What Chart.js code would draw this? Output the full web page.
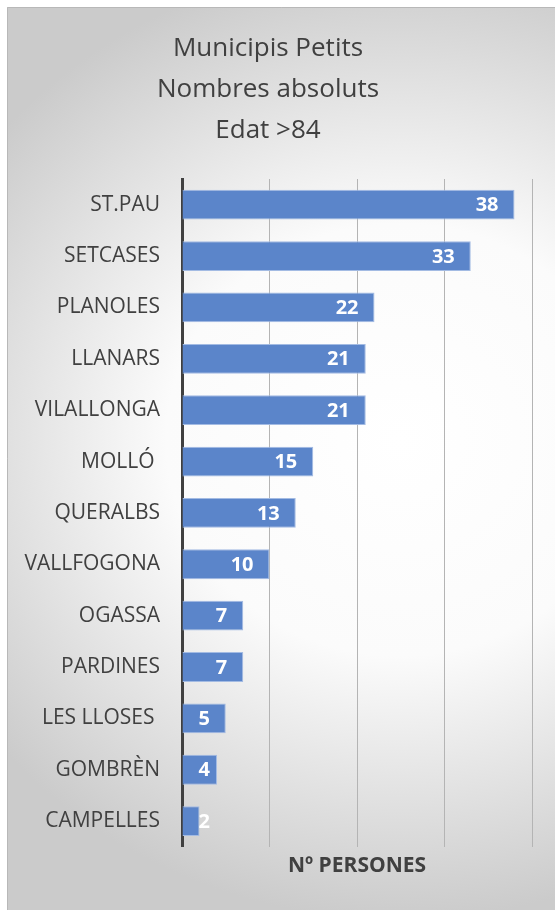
<!DOCTYPE html>
<html>
<head>
<meta charset="utf-8">
<title>Municipis Petits - Edat >84</title>
<script src="https://cdn.jsdelivr.net/npm/chart.js@4.4.1/dist/chart.umd.min.js"></script>
<style>
    html, body { margin: 0; padding: 0; background: #ffffff; }
    #chartBox { width: 555px; height: 910px; }
</style>
</head>
<body>
<div id="chartBox"><canvas id="popChart" width="555" height="910"></canvas></div>
<script>
// Chart data
const municipis = ['ST.PAU', 'SETCASES', 'PLANOLES', 'LLANARS', 'VILALLONGA', 'MOLLÓ ', 'QUERALBS',
    'VALLFOGONA', 'OGASSA', 'PARDINES', 'LES LLOSES ', 'GOMBRÈN', 'CAMPELLES'];
const persones = [38, 33, 22, 21, 21, 15, 13, 10, 7, 7, 5, 4, 2];
const titleLines = ['Municipis Petits', 'Nombres absoluts', 'Edat >84'];
const axisTitle = 'Nº PERSONES';

const FONT = '"Open Sans", "Noto Sans", sans-serif';
const TEXT_COLOR = '#404040';

// Grey radial background like the Excel chart area
const backgroundPlugin = {
    id: 'excelBackground',
    beforeDraw(chart) {
        const ctx = chart.ctx;
        ctx.save();
        ctx.fillStyle = '#ffffff';
        ctx.fillRect(0, 0, chart.width, chart.height);

        ctx.save();
        ctx.beginPath();
        ctx.rect(7, 7, chart.width, chart.height);
        ctx.clip();
        ctx.translate(400, 440);
        ctx.scale(1, 480 / 520);
        const grad = ctx.createRadialGradient(0, 0, 0, 0, 0, 520);
        grad.addColorStop(0, '#ffffff');
        grad.addColorStop(0.45, '#fbfbfb');
        grad.addColorStop(1, '#cbcbcb');
        ctx.fillStyle = grad;
        ctx.fillRect(-600, -600, 1200, 1400);
        ctx.restore();

        // left / top frame line
        ctx.strokeStyle = '#b8b8b8';
        ctx.lineWidth = 1;
        ctx.beginPath();
        ctx.moveTo(7.5, chart.height);
        ctx.lineTo(7.5, 7.5);
        ctx.lineTo(chart.width, 7.5);
        ctx.stroke();
        ctx.restore();
    }
};

// Value labels at the inside end of each bar
const valueLabelPlugin = {
    id: 'valueLabels',
    afterDatasetsDraw(chart) {
        const ctx = chart.ctx;
        const meta = chart.getDatasetMeta(0);
        const minRight = chart.chartArea.left + 28;
        ctx.save();
        ctx.font = 'bold 20px ' + FONT;
        ctx.fillStyle = '#ffffff';
        ctx.textAlign = 'right';
        ctx.textBaseline = 'middle';
        meta.data.forEach((bar, i) => {
            const x = Math.max(bar.x - 16, minRight);
            ctx.fillText(String(persones[i]), x, bar.y + 1);
        });
        ctx.restore();
    }
};

document.addEventListener('DOMContentLoaded', () => {
    const ctx = document.getElementById('popChart');

    new Chart(ctx.getContext('2d'), {
        type: 'bar',
        data: {
            labels: municipis,
            datasets: [{
                label: axisTitle,
                data: persones,
                backgroundColor: '#5b85ca',
                borderColor: '#a3bbe3',
                borderWidth: 1,
                barPercentage: 0.58,
                categoryPercentage: 1
            }]
        },
        options: {
            indexAxis: 'y',
            responsive: false,
            animation: false,
            devicePixelRatio: 1,
            layout: {
                padding: { left: 4, right: 23, top: 0, bottom: 31 }
            },
            plugins: {
                legend: { display: false },
                tooltip: { enabled: false },
                title: {
                    display: true,
                    text: titleLines,
                    color: TEXT_COLOR,
                    font: { family: FONT, size: 26, weight: 'normal', lineHeight: '41px' },
                    padding: { top: 28, bottom: 28 }
                }
            },
            scales: {
                x: {
                    min: 0,
                    max: 40,
                    ticks: { display: false, stepSize: 10 },
                    grid: { color: '#b4b4b4', lineWidth: 1, drawTicks: false },
                    border: { display: false },
                    title: {
                        display: true,
                        text: axisTitle,
                        color: TEXT_COLOR,
                        font: { family: FONT, size: 21, weight: 'bold', lineHeight: 1.2 },
                        padding: { top: 7, bottom: 0 }
                    }
                },
                y: {
                    z: 1,
                    afterFit(scale) {
                        scale.width = 178;
                    },
                    ticks: {
                        color: TEXT_COLOR,
                        font: { family: FONT, size: 21 },
                        padding: 22
                    },
                    grid: { display: false, drawTicks: false },
                    border: { display: true, color: '#404040', width: 3 }
                }
            }
        },
        plugins: [backgroundPlugin, valueLabelPlugin]
    });
});
</script>
</body>
</html>
